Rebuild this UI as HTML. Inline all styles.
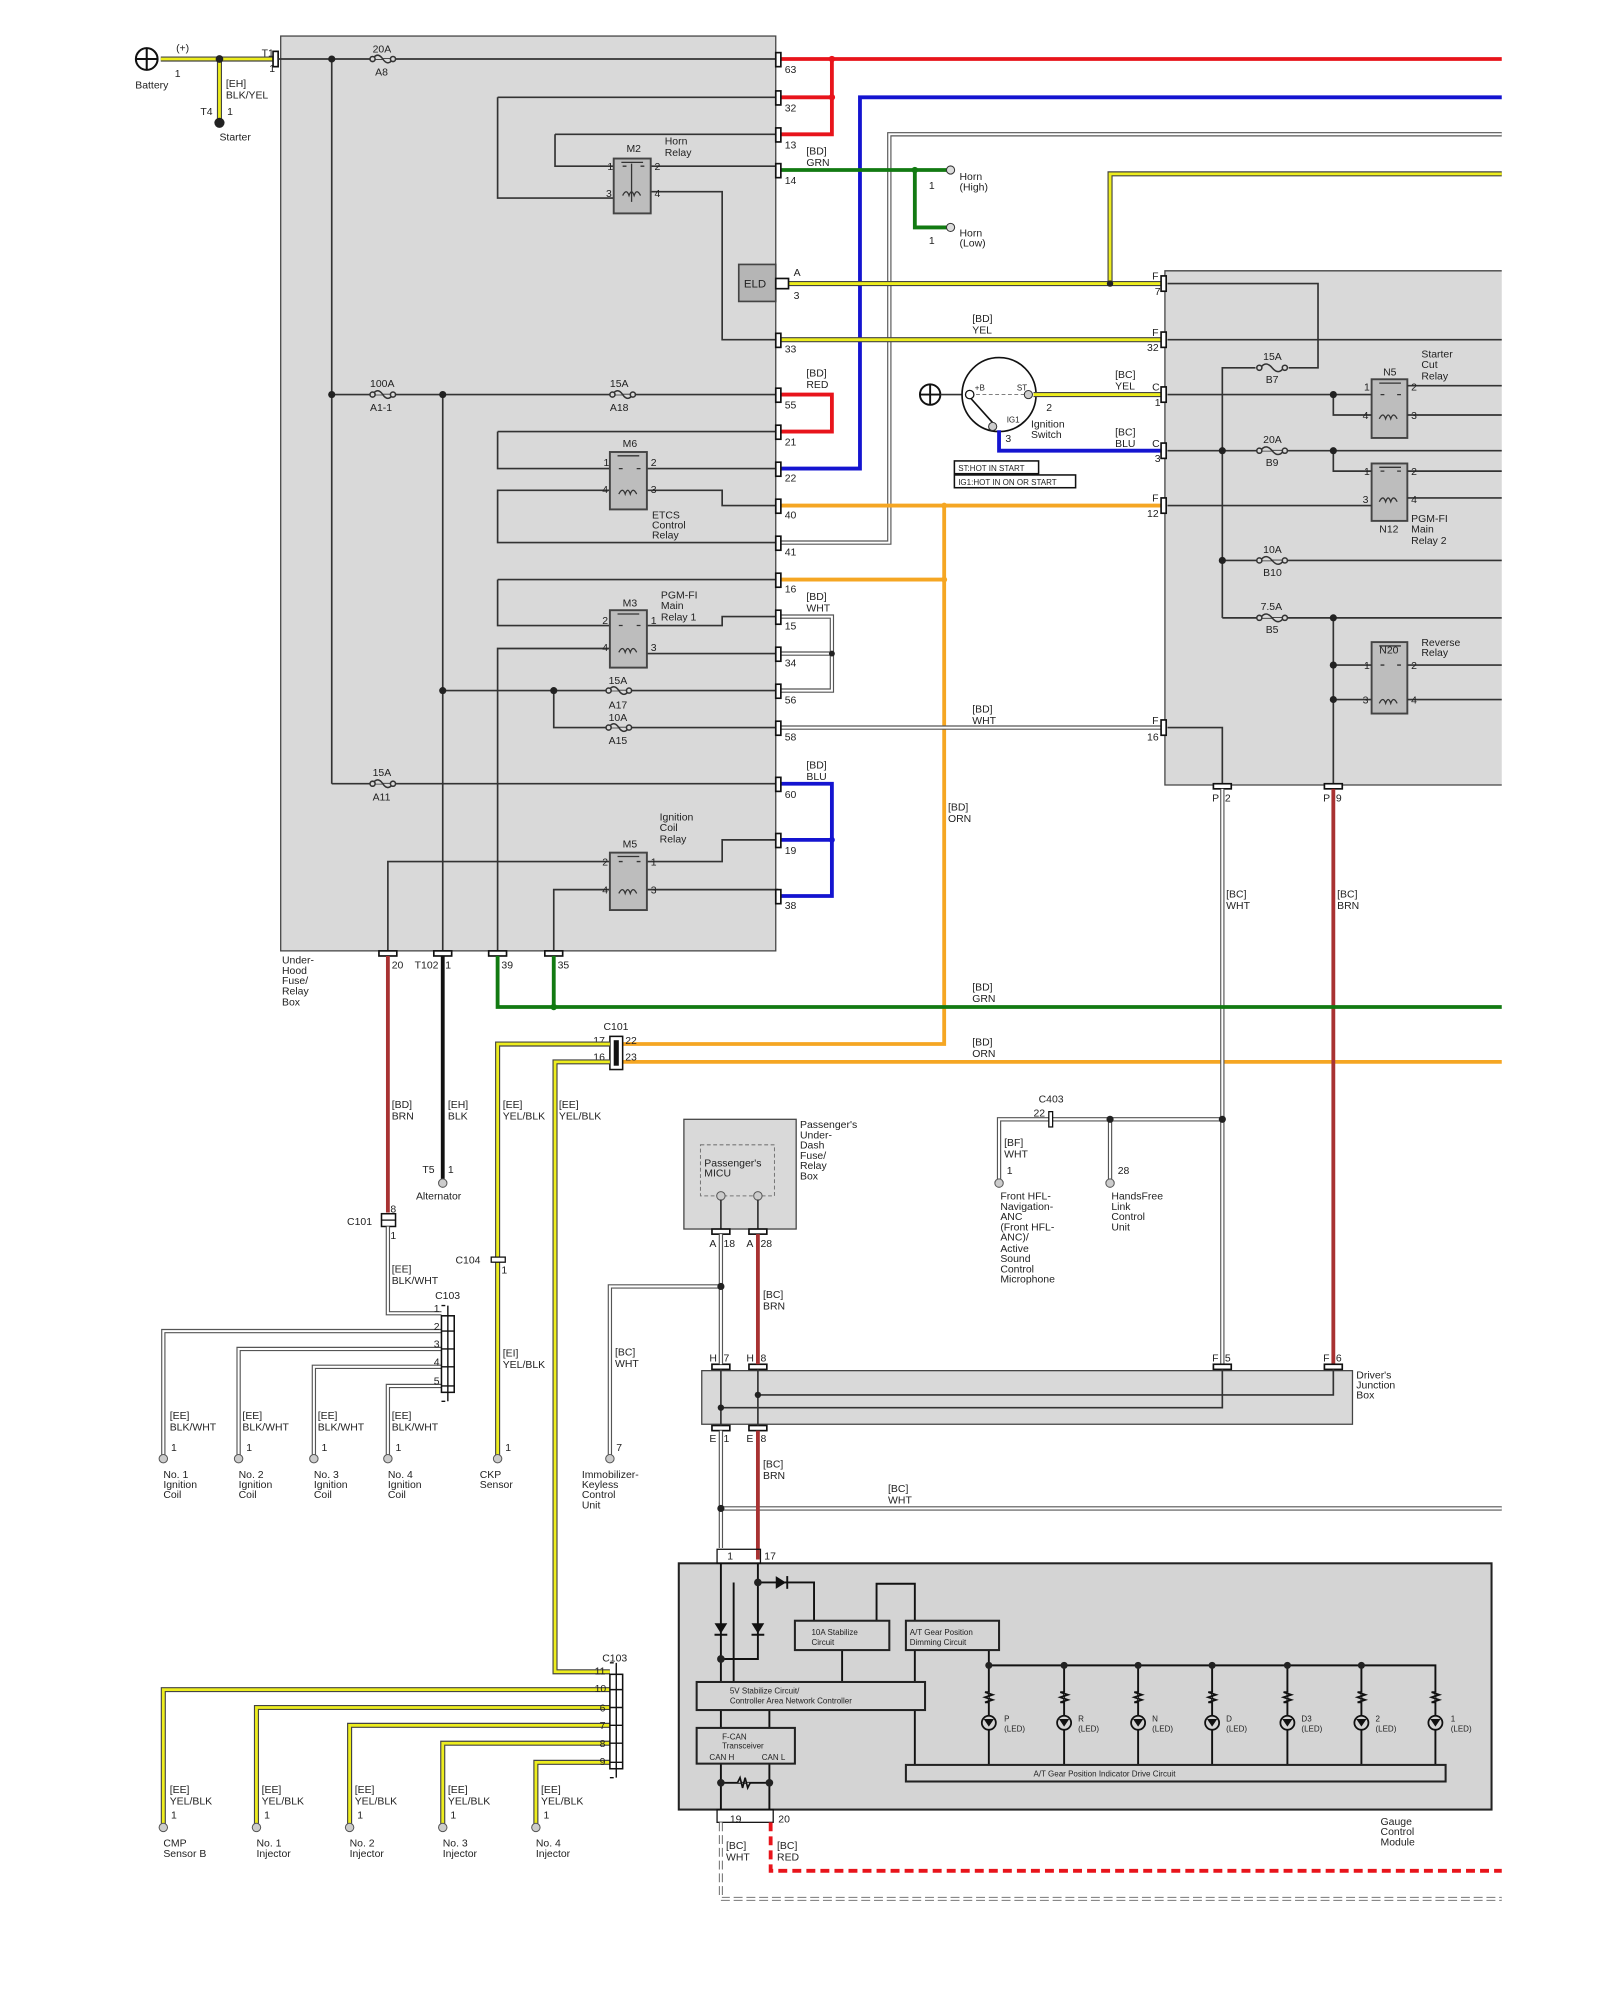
<!DOCTYPE html>
<html><head><meta charset="utf-8"><style>
html,body{margin:0;padding:0;background:#fff;}
svg{display:block}
text{font-family:"Liberation Sans",sans-serif;font-size:8.2px;fill:#222}
.k{stroke:#333;stroke-width:1.3;fill:none}
.r{stroke:#e8141b;stroke-width:3;fill:none}
.b{stroke:#1414d0;stroke-width:3;fill:none}
.g{stroke:#127a12;stroke-width:3;fill:none}
.o{stroke:#f5a623;stroke-width:3;fill:none}
.br{stroke:#a83232;stroke-width:3;fill:none}
.bk{stroke:#111;stroke-width:3;fill:none}
.yo{stroke:#444;stroke-width:4;fill:none}
.y{stroke:#eded1e;stroke-width:2.2;fill:none}
.wo{stroke:#555;stroke-width:3.4;fill:none}
.w{stroke:#fff;stroke-width:1.6;fill:none}
.pin{fill:#fff;stroke:#111;stroke-width:1.3}
.dot{fill:#222}
.rel{fill:#bdbdbd;stroke:#444;stroke-width:1.5}
.box{fill:#d9d9d9;stroke:#444;stroke-width:1}
.ib{fill:#d4d4d4;stroke:#222;stroke-width:1.6}
.term{fill:#ccc;stroke:#555;stroke-width:0.8}
.sm{font-size:6.3px}
</style></head><body>
<svg width="1600" height="2000" viewBox="0 0 1254 1567" xmlns="http://www.w3.org/2000/svg">
<!-- boxes -->
<rect class="box" x="220" y="28" width="388" height="717"/>
<path d="M1177 212 H913 V615 H1177" fill="#d9d9d9" stroke="#444" stroke-width="1"/>
<rect class="box" x="536" y="877" width="88" height="86"/>
<rect x="549" y="897" width="58" height="40" fill="none" stroke="#777" stroke-dasharray="3,2" stroke-width="0.8"/>
<rect class="box" x="550" y="1074" width="510" height="42"/>
<rect class="ib" x="532" y="1225" width="637" height="193"/>

<!-- battery -->
<circle cx="115" cy="46" r="8.5" fill="#fff" stroke="#111" stroke-width="1.6"/>
<path d="M115 38V54M107 46H123" stroke="#111" stroke-width="1.6"/>
<path class="yo" d="M126 46H214M172 46V96"/><path class="y" d="M126 46H214M172 46V96"/>
<circle class="dot" cx="172" cy="46" r="3"/><circle class="dot" cx="172" cy="96" r="4"/>
<rect class="pin" x="214" y="40" width="4" height="12"/>
<text x="138" y="40">(+)</text><text x="137" y="60">1</text><text x="106" y="69">Battery</text>
<text x="177" y="68">[EH]</text><text x="177" y="77">BLK/YEL</text>
<text x="157" y="90">T4</text><text x="178" y="90">1</text><text x="172" y="110">Starter</text>
<text x="205" y="44">T1</text><text x="211" y="56">1</text>

<!-- main box internal -->
<path class="k" d="M218 46H610M260 46V614M260 309H610M347 309V746M390 76H610M390 76V155H481M435 105H610M435 105V130H481M510 130H610M510 150H566V266H610"/>
<path class="k" d="M390 338H610M390 338V367H478M507 367H610M507 384H566V396H610M478 384H390V425H610"/>
<path class="k" d="M390 454H610M390 454V490H478M507 490H566V483H610M507 512H610M478 508H390V746M347 541H610M434 541V570H610M260 614H610"/>
<path class="k" d="M507 675H566V658H610M507 697H610M478 675H304V746M478 697H434V746"/>
<g class="dot"><circle cx="260" cy="46" r="2.8"/><circle cx="260" cy="309" r="2.8"/><circle cx="347" cy="309" r="2.8"/><circle cx="347" cy="541" r="2.8"/><circle cx="434" cy="541" r="2.8"/></g>
<!-- fuses -->
<g fill="#d9d9d9" stroke="#333" stroke-width="1.2">
<path d="M292 46Q296 40 300 46T308 46"/><circle cx="292" cy="46" r="2"/><circle cx="308" cy="46" r="2"/>
<path d="M292 309Q296 303 300 309T308 309"/><circle cx="292" cy="309" r="2"/><circle cx="308" cy="309" r="2"/>
<path d="M480 309Q484 303 488 309T496 309"/><circle cx="480" cy="309" r="2"/><circle cx="496" cy="309" r="2"/>
<path d="M477 541Q481 535 485 541T493 541"/><circle cx="477" cy="541" r="2"/><circle cx="493" cy="541" r="2"/>
<path d="M477 570Q481 564 485 570T493 570"/><circle cx="477" cy="570" r="2"/><circle cx="493" cy="570" r="2"/>
<path d="M292 614Q296 608 300 614T308 614"/><circle cx="292" cy="614" r="2"/><circle cx="308" cy="614" r="2"/>
</g>
<text x="292" y="41">20A</text><text x="294" y="59">A8</text>
<text x="290" y="303">100A</text><text x="290" y="322">A1-1</text>
<text x="478" y="303">15A</text><text x="478" y="322">A18</text>
<text x="477" y="536">15A</text><text x="477" y="555">A17</text>
<text x="477" y="565">10A</text><text x="477" y="583">A15</text>
<text x="292" y="608">15A</text><text x="292" y="627">A11</text>
<!-- relays -->
<g>
<rect class="rel" x="481" y="124" width="29" height="43"/>
<rect class="rel" x="478" y="354" width="29" height="45"/>
<rect class="rel" x="478" y="478" width="29" height="45"/>
<rect class="rel" x="478" y="668" width="29" height="45"/>
<rect class="rel" x="1075" y="297" width="28" height="46"/>
<rect class="rel" x="1075" y="363" width="28" height="45"/>
<rect class="rel" x="1075" y="503" width="28" height="56"/>
</g>
<g stroke="#333" stroke-width="1" fill="none">
<path d="M487 127H504M488 130h3M502 130h3M495 128V158" stroke-dasharray="0"/><path d="M488 153q3-6 5 0q2-6 4 0q2-6 5 0"/>
<path d="M484 357H501M485 367h3M499 367h3"/><path d="M485 387q3-6 5 0q2-6 4 0q2-6 5 0"/>
<path d="M484 481H501M485 490h3M499 490h3"/><path d="M485 511q3-6 5 0q2-6 4 0q2-6 5 0"/>
<path d="M484 671H501M485 675h3M499 675h3"/><path d="M485 700q3-6 5 0q2-6 4 0q2-6 5 0"/>
<path d="M1081 300H1098M1082 309h3M1095 309h3"/><path d="M1081 328q3-6 5 0q2-6 4 0q2-6 5 0"/>
<path d="M1081 366H1098M1082 369h3M1095 369h3"/><path d="M1081 393q3-6 5 0q2-6 4 0q2-6 5 0"/>
<path d="M1081 506H1098M1082 521h3M1095 521h3"/><path d="M1081 551q3-6 5 0q2-6 4 0q2-6 5 0"/>
</g>
<text x="491" y="119">M2</text><text x="521" y="113">Horn</text><text x="521" y="122">Relay</text>
<text x="476" y="133">1</text><text x="513" y="133">2</text><text x="475" y="154">3</text><text x="513" y="154">4</text>
<text x="488" y="350">M6</text><text x="473" y="365">1</text><text x="510" y="365">2</text><text x="472" y="386">4</text><text x="510" y="386">3</text>
<text x="511" y="406">ETCS</text><text x="511" y="414">Control</text><text x="511" y="422">Relay</text>
<text x="488" y="475">M3</text><text x="518" y="469">PGM-FI</text><text x="518" y="477">Main</text><text x="518" y="486">Relay 1</text>
<text x="472" y="489">2</text><text x="510" y="489">1</text><text x="472" y="510">4</text><text x="510" y="510">3</text>
<text x="517" y="643">Ignition</text><text x="517" y="651">Coil</text><text x="517" y="660">Relay</text>
<text x="488" y="664">M5</text><text x="472" y="678">2</text><text x="510" y="678">1</text><text x="472" y="700">4</text><text x="510" y="700">3</text>
<rect x="579" y="207" width="29" height="29" fill="#b5b5b5" stroke="#444" stroke-width="1.3"/><text x="583" y="225" style="font-size:9px">ELD</text>
<text x="221" y="755">Under-</text><text x="221" y="763">Hood</text><text x="221" y="771">Fuse/</text><text x="221" y="779">Relay</text><text x="221" y="788">Box</text>

<!-- right side wires from main box -->
<path class="r" d="M612 46H1177M612 76H652M612 105H652V46M612 309H652V338H612"/>
<circle cx="652" cy="46" r="2.5" fill="#e8141b"/><circle cx="652" cy="76" r="2.5" fill="#e8141b"/>
<path class="b" d="M612 367H674V76H1177"/>
<path class="wo" d="M612 425H697V105H1177"/><path class="w" d="M612 425H697V105H1177"/>
<path class="g" d="M612 133H742M717 133V178H742"/><circle cx="717" cy="133" r="2.5" fill="#127a12"/>
<path class="yo" d="M612 222H910M870 222V136H1177M612 266H910"/><path class="y" d="M612 222H910M870 222V136H1177M612 266H910"/>
<circle class="dot" cx="870" cy="222" r="2.5"/>
<path class="o" d="M612 396H910M612 454H740M740 396V818H486M486 832H1177"/>
<circle cx="740" cy="396" r="2.3" fill="#f5a623"/><circle cx="740" cy="454" r="2.3" fill="#f5a623"/>
<path class="wo" d="M612 483H652V541H612M612 512H652M612 570H910"/><path class="w" d="M612 483H652V541H612M612 512H652M612 570H910"/>
<circle class="dot" cx="652" cy="512" r="2.3"/>
<path class="b" d="M612 614H652V702H612M612 658H652"/><circle cx="652" cy="658" r="2.3" fill="#1414d0"/>
<!-- pins main box right -->
<g class="pin">
<rect x="608" y="41" width="4" height="11"/><rect x="608" y="71" width="4" height="11"/><rect x="608" y="100" width="4" height="11"/><rect x="608" y="128" width="4" height="11"/>
<rect x="608" y="218" width="10" height="8"/>
<rect x="608" y="261" width="4" height="11"/><rect x="608" y="304" width="4" height="11"/><rect x="608" y="333" width="4" height="11"/><rect x="608" y="362" width="4" height="11"/>
<rect x="608" y="391" width="4" height="11"/><rect x="608" y="420" width="4" height="11"/><rect x="608" y="449" width="4" height="11"/><rect x="608" y="478" width="4" height="11"/>
<rect x="608" y="507" width="4" height="11"/><rect x="608" y="536" width="4" height="11"/><rect x="608" y="565" width="4" height="11"/><rect x="608" y="609" width="4" height="11"/>
<rect x="608" y="653" width="4" height="11"/><rect x="608" y="697" width="4" height="11"/>
</g>
<g><text x="615" y="57">63</text><text x="615" y="87">32</text><text x="615" y="116">13</text><text x="615" y="144">14</text>
<text x="622" y="216">A</text><text x="622" y="234">3</text>
<text x="615" y="276">33</text><text x="615" y="320">55</text><text x="615" y="349">21</text><text x="615" y="377">22</text><text x="615" y="406">40</text><text x="615" y="435">41</text>
<text x="615" y="464">16</text><text x="615" y="493">15</text><text x="615" y="522">34</text><text x="615" y="551">56</text><text x="615" y="580">58</text><text x="615" y="625">60</text><text x="615" y="669">19</text><text x="615" y="712">38</text></g>
<text x="632" y="121">[BD]</text><text x="632" y="130">GRN</text>
<text x="632" y="295">[BD]</text><text x="632" y="304">RED</text>
<text x="632" y="470">[BD]</text><text x="632" y="479">WHT</text>
<text x="632" y="602">[BD]</text><text x="632" y="611">BLU</text>
<text x="762" y="252">[BD]</text><text x="762" y="261">YEL</text>
<text x="762" y="558">[BD]</text><text x="762" y="567">WHT</text>
<text x="743" y="635">[BD]</text><text x="743" y="644">ORN</text>
<text x="762" y="776">[BD]</text><text x="762" y="785">GRN</text>
<text x="762" y="819">[BD]</text><text x="762" y="828">ORN</text>
<!-- horns -->
<circle cx="745" cy="133" r="3.2" fill="#ddd" stroke="#333" stroke-width="0.8"/><circle cx="745" cy="178" r="3.2" fill="#ddd" stroke="#333" stroke-width="0.8"/>
<text x="752" y="141">Horn</text><text x="752" y="149">(High)</text><text x="728" y="148">1</text>
<text x="752" y="185">Horn</text><text x="752" y="193">(Low)</text><text x="728" y="191">1</text>
<!-- ignition switch -->
<circle cx="729" cy="309" r="8" fill="#fff" stroke="#111" stroke-width="1.5"/><path d="M729 301V317M721 309H737" stroke="#111" stroke-width="1.5"/>
<path class="k" d="M737 309H757"/>
<circle cx="783" cy="309" r="29" fill="#fff" stroke="#111" stroke-width="1.3"/>
<path d="M760 309H805" stroke="#555" stroke-width="0.6" stroke-dasharray="3,2"/>
<path d="M760 311L778 331" stroke="#111" stroke-width="1.3"/>
<circle cx="760" cy="309" r="3.3" fill="#fff" stroke="#111"/>
<circle cx="806" cy="309" r="3.2" fill="#ccc" stroke="#333" stroke-width="0.8"/>
<circle cx="778" cy="334" r="3.2" fill="#ccc" stroke="#333" stroke-width="0.8"/>
<text x="764" y="306" class="sm">+B</text><text x="797" y="306" class="sm">ST</text><text x="789" y="331" class="sm">IG1</text>
<text x="820" y="322">2</text><text x="788" y="346">3</text><text x="808" y="335">Ignition</text><text x="808" y="343">Switch</text>
<path class="yo" d="M810 309H910"/><path class="y" d="M810 309H910"/>
<path class="b" d="M783 337V353H910"/>
<text x="874" y="296">[BC]</text><text x="874" y="305">YEL</text>
<text x="874" y="341">[BC]</text><text x="874" y="350">BLU</text>
<rect x="748" y="361" width="66" height="10" fill="#fff" stroke="#111" stroke-width="1.2"/><text x="751" y="369" class="sm">ST:HOT IN START</text>
<rect x="748" y="372" width="95" height="10" fill="#fff" stroke="#111" stroke-width="1.2"/><text x="751" y="380" class="sm">IG1:HOT IN ON OR START</text>

<!-- right box internal -->
<path class="k" d="M915 222H1033V288H1010M984 288H958V484M915 266H1177M915 309H1075M1103 302H1177M1045 309V325H1075M1103 325H1177M915 353H1177M1045 353V369H1075M1103 369H1177M915 396H1075M1103 390H1177M958 439H1177M958 484H1177M1045 484V615M1045 521H1075M1103 521H1177M1045 548H1075M1103 548H1177M915 570H958V615"/>
<g class="dot"><circle cx="958" cy="353" r="2.8"/><circle cx="958" cy="439" r="2.8"/><circle cx="1045" cy="309" r="2.8"/><circle cx="1045" cy="353" r="2.8"/><circle cx="1045" cy="484" r="2.8"/><circle cx="1045" cy="521" r="2.8"/><circle cx="1045" cy="548" r="2.8"/></g>
<g fill="#d9d9d9" stroke="#333" stroke-width="1.2">
<path d="M988 288Q992 282 997 288T1006 288"/><circle cx="987" cy="288" r="2"/><circle cx="1007" cy="288" r="2"/>
<path d="M988 353Q992 347 997 353T1006 353"/><circle cx="987" cy="353" r="2"/><circle cx="1007" cy="353" r="2"/>
<path d="M988 439Q992 433 997 439T1006 439"/><circle cx="987" cy="439" r="2"/><circle cx="1007" cy="439" r="2"/>
<path d="M988 484Q992 478 997 484T1006 484"/><circle cx="987" cy="484" r="2"/><circle cx="1007" cy="484" r="2"/>
</g>
<text x="990" y="282">15A</text><text x="992" y="300">B7</text><text x="990" y="347">20A</text><text x="992" y="365">B9</text>
<text x="990" y="433">10A</text><text x="990" y="451">B10</text><text x="988" y="478">7.5A</text><text x="992" y="496">B5</text>
<text x="1084" y="294">N5</text><text x="1114" y="280">Starter</text><text x="1114" y="288">Cut</text><text x="1114" y="297">Relay</text>
<text x="1069" y="306">1</text><text x="1106" y="306">2</text><text x="1068" y="328">4</text><text x="1106" y="328">3</text>
<text x="1069" y="372">1</text><text x="1106" y="372">2</text><text x="1068" y="394">3</text><text x="1106" y="394">4</text>
<text x="1081" y="417">N12</text><text x="1106" y="409">PGM-FI</text><text x="1106" y="417">Main</text><text x="1106" y="426">Relay 2</text>
<text x="1081" y="512">N20</text><text x="1114" y="506">Reverse</text><text x="1114" y="514">Relay</text>
<text x="1069" y="524">1</text><text x="1106" y="524">2</text><text x="1068" y="551">3</text><text x="1106" y="551">4</text>
<g class="pin"><rect x="910" y="216" width="4" height="12"/><rect x="910" y="260" width="4" height="12"/><rect x="910" y="303" width="4" height="12"/><rect x="910" y="347" width="4" height="12"/><rect x="910" y="390" width="4" height="12"/><rect x="910" y="564" width="4" height="12"/>
<rect x="951" y="614" width="14" height="4"/><rect x="1038" y="614" width="14" height="4"/></g>
<text x="903" y="219">F</text><text x="905" y="231">7</text><text x="903" y="263">F</text><text x="899" y="275">32</text><text x="903" y="306">C</text><text x="905" y="318">1</text>
<text x="903" y="350">C</text><text x="905" y="362">3</text><text x="903" y="393">F</text><text x="899" y="405">12</text><text x="903" y="567">F</text><text x="899" y="580">16</text>
<text x="950" y="628">P</text><text x="960" y="628">2</text><text x="1037" y="628">P</text><text x="1047" y="628">9</text>

<!-- verticals P2 and P9 -->
<path class="wo" d="M958 618V1071"/><path class="w" d="M958 618V1071"/>
<path class="br" d="M1045 618V1071"/>
<text x="961" y="703">[BC]</text><text x="961" y="712">WHT</text>
<text x="1048" y="703">[BC]</text><text x="1048" y="712">BRN</text>
<!-- C403 -->
<path class="wo" d="M958 877H783V925M870 877V925"/><path class="w" d="M958 877H783V925M870 877V925"/>
<rect x="822" y="871" width="3" height="12" fill="#fff" stroke="#111" stroke-width="1"/>
<g class="dot"><circle cx="958" cy="877" r="2.8"/><circle cx="870" cy="877" r="2.8"/></g>
<circle class="term" cx="783" cy="927" r="3.3"/><circle class="term" cx="870" cy="927" r="3.3"/>
<text x="814" y="864">C403</text><text x="810" y="875">22</text>
<text x="787" y="898">[BF]</text><text x="787" y="907">WHT</text><text x="789" y="920">1</text><text x="876" y="920">28</text>
<text x="784" y="940">Front HFL-</text><text x="784" y="948">Navigation-</text><text x="784" y="956">ANC</text><text x="784" y="964">(Front HFL-</text><text x="784" y="972">ANC)/</text><text x="784" y="981">Active</text><text x="784" y="989">Sound</text><text x="784" y="997">Control</text><text x="784" y="1005">Microphone</text>
<text x="871" y="940">HandsFree</text><text x="871" y="948">Link</text><text x="871" y="956">Control</text><text x="871" y="964">Unit</text>

<!-- bottom pins main box -->
<g class="pin"><rect x="297" y="745" width="14" height="4"/><rect x="340" y="745" width="14" height="4"/><rect x="383" y="745" width="14" height="4"/><rect x="427" y="745" width="14" height="4"/></g>
<text x="307" y="759">20</text><text x="325" y="759">T102</text><text x="349" y="759">1</text><text x="393" y="759">39</text><text x="437" y="759">35</text>
<path class="g" d="M390 749V789H1177M434 749V789"/><circle cx="434" cy="789" r="2.5" fill="#127a12"/>
<path class="br" d="M304 749V950"/>
<path class="bk" d="M347 749V925"/>
<circle class="term" cx="347" cy="927" r="3.3"/>
<text x="307" y="868">[BD]</text><text x="307" y="877">BRN</text><text x="351" y="868">[EH]</text><text x="351" y="877">BLK</text>
<text x="331" y="919">T5</text><text x="351" y="919">1</text><text x="326" y="940">Alternator</text>
<!-- C101 brn -->
<rect x="299" y="951" width="11" height="10" fill="#fff" stroke="#111" stroke-width="1.2"/><path d="M299 956H310" stroke="#111"/>
<text x="306" y="950">8</text><text x="306" y="971">1</text><text x="272" y="960">C101</text>
<path class="wo" d="M304 961V1029H346"/><path class="w" d="M304 961V1029H346"/>
<text x="307" y="997">[EE]</text><text x="307" y="1006">BLK/WHT</text>
<!-- C101 upper -->
<rect x="478" y="812" width="10" height="26" fill="#fff" stroke="#111" stroke-width="1.2"/><rect x="481" y="815" width="4" height="20" fill="#111"/>
<text x="473" y="807">C101</text><text x="465" y="818">17</text><text x="490" y="818">22</text><text x="465" y="831">16</text><text x="490" y="831">23</text>
<path class="yo" d="M478 818H390V1141M478 832H435V1310H478"/><path class="y" d="M478 818H390V1141M478 832H435V1310H478"/>
<text x="394" y="868">[EE]</text><text x="394" y="877">YEL/BLK</text><text x="438" y="868">[EE]</text><text x="438" y="877">YEL/BLK</text>
<rect x="385" y="985" width="11" height="4" fill="#fff" stroke="#111" stroke-width="1"/>
<text x="357" y="990">C104</text><text x="393" y="998">1</text>
<text x="394" y="1063">[EI]</text><text x="394" y="1072">YEL/BLK</text>
<circle class="term" cx="390" cy="1143" r="3.3"/><text x="396" y="1137">1</text><text x="376" y="1158">CKP</text><text x="376" y="1166">Sensor</text>
<!-- C103 upper -->
<path class="wo" d="M346 1043H128V1141M346 1057H187V1141M346 1071H246V1141M346 1086H304V1141"/><path class="w" d="M346 1043H128V1141M346 1057H187V1141M346 1071H246V1141M346 1086H304V1141"/>
<rect x="346" y="1031" width="10" height="60" fill="none" stroke="#111" stroke-width="1.2"/>
<path d="M346 1043H356M346 1057H356M346 1071H356M346 1086H356M351 1023V1098M346 1023h3M346 1098h3" stroke="#111" stroke-width="1.1" fill="none"/>
<text x="341" y="1018">C103</text><text x="340" y="1028">1</text><text x="340" y="1042">2</text><text x="340" y="1056">3</text><text x="340" y="1070">4</text><text x="340" y="1085">5</text>
<g><circle class="term" cx="128" cy="1143" r="3.3"/><circle class="term" cx="187" cy="1143" r="3.3"/><circle class="term" cx="246" cy="1143" r="3.3"/><circle class="term" cx="304" cy="1143" r="3.3"/></g>
<text x="133" y="1112">[EE]</text><text x="133" y="1121">BLK/WHT</text><text x="190" y="1112">[EE]</text><text x="190" y="1121">BLK/WHT</text>
<text x="249" y="1112">[EE]</text><text x="249" y="1121">BLK/WHT</text><text x="307" y="1112">[EE]</text><text x="307" y="1121">BLK/WHT</text>
<text x="134" y="1137">1</text><text x="193" y="1137">1</text><text x="252" y="1137">1</text><text x="310" y="1137">1</text>
<text x="128" y="1158">No. 1</text><text x="128" y="1166">Ignition</text><text x="128" y="1174">Coil</text>
<text x="187" y="1158">No. 2</text><text x="187" y="1166">Ignition</text><text x="187" y="1174">Coil</text>
<text x="246" y="1158">No. 3</text><text x="246" y="1166">Ignition</text><text x="246" y="1174">Coil</text>
<text x="304" y="1158">No. 4</text><text x="304" y="1166">Ignition</text><text x="304" y="1174">Coil</text>
<!-- C103 lower -->
<path class="yo" d="M478 1324H128V1430M478 1338H201V1430M478 1352H274V1430M478 1366H347V1430M478 1381H420V1430"/><path class="y" d="M478 1324H128V1430M478 1338H201V1430M478 1352H274V1430M478 1366H347V1430M478 1381H420V1430"/>
<rect x="478" y="1312" width="10" height="74" fill="none" stroke="#111" stroke-width="1.2"/>
<path d="M478 1324H488M478 1338H488M478 1352H488M478 1366H488M478 1381H488M483 1303V1393M478 1303h3M478 1393h3" stroke="#111" stroke-width="1.1" fill="none"/>
<text x="472" y="1302">C103</text><text x="466" y="1312">11</text><text x="466" y="1326">10</text><text x="470" y="1341">6</text><text x="470" y="1355">7</text><text x="470" y="1369">8</text><text x="470" y="1383">9</text>
<g><circle class="term" cx="128" cy="1432" r="3.3"/><circle class="term" cx="201" cy="1432" r="3.3"/><circle class="term" cx="274" cy="1432" r="3.3"/><circle class="term" cx="347" cy="1432" r="3.3"/><circle class="term" cx="420" cy="1432" r="3.3"/></g>
<text x="133" y="1405">[EE]</text><text x="133" y="1414">YEL/BLK</text><text x="205" y="1405">[EE]</text><text x="205" y="1414">YEL/BLK</text><text x="278" y="1405">[EE]</text><text x="278" y="1414">YEL/BLK</text>
<text x="351" y="1405">[EE]</text><text x="351" y="1414">YEL/BLK</text><text x="424" y="1405">[EE]</text><text x="424" y="1414">YEL/BLK</text>
<text x="134" y="1425">1</text><text x="207" y="1425">1</text><text x="280" y="1425">1</text><text x="353" y="1425">1</text><text x="426" y="1425">1</text>
<text x="128" y="1447">CMP</text><text x="128" y="1455">Sensor B</text><text x="201" y="1447">No. 1</text><text x="201" y="1455">Injector</text>
<text x="274" y="1447">No. 2</text><text x="274" y="1455">Injector</text><text x="347" y="1447">No. 3</text><text x="347" y="1455">Injector</text>
<text x="420" y="1447">No. 4</text><text x="420" y="1455">Injector</text>

<!-- passenger MICU -->
<text x="552" y="914">Passenger's</text><text x="552" y="922">MICU</text>
<text x="627" y="884">Passenger's</text><text x="627" y="892">Under-</text><text x="627" y="900">Dash</text><text x="627" y="908">Fuse/</text><text x="627" y="916">Relay</text><text x="627" y="924">Box</text>
<circle class="term" cx="565" cy="937" r="3.3"/><circle class="term" cx="594" cy="937" r="3.3"/>
<path class="k" d="M565 940V963M594 940V963"/>
<g class="pin"><rect x="558" y="963" width="14" height="4"/><rect x="587" y="963" width="14" height="4"/><rect x="558" y="1069" width="14" height="4"/><rect x="587" y="1069" width="14" height="4"/><rect x="951" y="1069" width="14" height="4"/><rect x="1038" y="1069" width="14" height="4"/><rect x="558" y="1117" width="14" height="4"/><rect x="587" y="1117" width="14" height="4"/></g>
<text x="556" y="977">A</text><text x="567" y="977">18</text><text x="585" y="977">A</text><text x="596" y="977">28</text>
<path class="wo" d="M565 967V1069M565 1008H478V1141M565 1121V1213M565 1182H1177"/><path class="w" d="M565 967V1069M565 1008H478V1141M565 1121V1213M565 1182H1177"/>
<circle class="dot" cx="565" cy="1008" r="2.8"/><circle class="dot" cx="565" cy="1182" r="2.8"/>
<path class="br" d="M594 967V1069M594 1121V1222"/>
<text x="598" y="1017">[BC]</text><text x="598" y="1026">BRN</text><text x="482" y="1062">[BC]</text><text x="482" y="1071">WHT</text>
<circle class="term" cx="478" cy="1143" r="3.3"/><text x="483" y="1137">7</text>
<text x="456" y="1158">Immobilizer-</text><text x="456" y="1166">Keyless</text><text x="456" y="1174">Control</text><text x="456" y="1182">Unit</text>
<!-- DJB -->
<text x="556" y="1067">H</text><text x="567" y="1067">7</text><text x="585" y="1067">H</text><text x="596" y="1067">8</text>
<text x="950" y="1067">F</text><text x="960" y="1067">5</text><text x="1037" y="1067">F</text><text x="1047" y="1067">6</text>
<path class="k" d="M565 1073V1117M594 1073V1117M594 1093H1045V1073M565 1103H958V1073"/>
<circle class="dot" cx="594" cy="1093" r="2.5"/><circle class="dot" cx="565" cy="1103" r="2.5"/>
<text x="1063" y="1080">Driver's</text><text x="1063" y="1088">Junction</text><text x="1063" y="1096">Box</text>
<text x="556" y="1130">E</text><text x="567" y="1130">1</text><text x="585" y="1130">E</text><text x="596" y="1130">8</text>
<text x="598" y="1150">[BC]</text><text x="598" y="1159">BRN</text><text x="696" y="1169">[BC]</text><text x="696" y="1178">WHT</text>

<!-- gauge module -->
<rect x="562" y="1214" width="34" height="11" fill="none" stroke="#111" stroke-width="1"/>
<text x="570" y="1222">1</text><text x="599" y="1222">17</text>
<path class="k" style="stroke:#111;stroke-width:1.5" d="M565 1225V1354M594 1225V1300H565M594 1240H630M630 1240H638V1270M575 1240V1318M660 1293V1318M687 1270V1241H717V1270M717 1293V1383M775 1293V1383M775 1305H1125V1383M834 1305V1383M892 1305V1383M950 1305V1383M1009 1305V1383M1067 1305V1383M565 1340V1354M603 1340V1354M565 1382V1418M603 1382V1418M565 1397H603"/>
<g class="dot"><circle cx="594" cy="1240" r="3"/><circle cx="565" cy="1300" r="3"/><circle cx="775" cy="1305" r="2.8"/><circle cx="834" cy="1305" r="2.8"/><circle cx="892" cy="1305" r="2.8"/><circle cx="950" cy="1305" r="2.8"/><circle cx="1009" cy="1305" r="2.8"/><circle cx="1067" cy="1305" r="2.8"/><circle cx="565" cy="1397" r="3"/><circle cx="603" cy="1397" r="3"/></g>
<path d="M608 1235L616 1240L608 1245Z" fill="#111"/><path d="M617 1235V1245" stroke="#111" stroke-width="1.5"/>
<path d="M560 1272L570 1272L565 1280Z M589 1272L599 1272L594 1280Z" fill="#111"/><path d="M560 1281H570M589 1281H599" stroke="#111" stroke-width="1.5"/>
<rect class="ib" x="623" y="1270" width="74" height="23"/><text x="636" y="1281" class="sm">10A Stabilize</text><text x="636" y="1289" class="sm">Circuit</text>
<rect class="ib" x="710" y="1270" width="73" height="23"/><text x="713" y="1281" class="sm">A/T Gear Position</text><text x="713" y="1289" class="sm">Dimming Circuit</text>
<rect class="ib" x="546" y="1318" width="179" height="22"/><text x="572" y="1327" class="sm">5V Stabilize Circuit/</text><text x="572" y="1335" class="sm">Controller Area Network Controller</text>
<rect class="ib" x="546" y="1354" width="77" height="28"/><text x="566" y="1363" class="sm">F-CAN</text><text x="566" y="1370" class="sm">Transceiver</text><text x="556" y="1379" class="sm">CAN H</text><text x="597" y="1379" class="sm">CAN L</text>
<path d="M578 1397l2-4 2 8 2-8 2 8 2-4" stroke="#111" stroke-width="1.3" fill="#d4d4d4"/>
<rect class="ib" x="710" y="1383" width="423" height="13"/><text x="810" y="1392" class="sm">A/T Gear Position Indicator Drive Circuit</text>
<g stroke="#111" stroke-width="1.4" fill="#d4d4d4">
<path d="M775 1326h-3l6 2-6 2 6 2-6 2h3M834 1326h-3l6 2-6 2 6 2-6 2h3M892 1326h-3l6 2-6 2 6 2-6 2h3M950 1326h-3l6 2-6 2 6 2-6 2h3M1009 1326h-3l6 2-6 2 6 2-6 2h3M1067 1326h-3l6 2-6 2 6 2-6 2h3M1125 1326h-3l6 2-6 2 6 2-6 2h3"/>
<circle cx="775" cy="1350" r="5.5"/><circle cx="834" cy="1350" r="5.5"/><circle cx="892" cy="1350" r="5.5"/><circle cx="950" cy="1350" r="5.5"/><circle cx="1009" cy="1350" r="5.5"/><circle cx="1067" cy="1350" r="5.5"/><circle cx="1125" cy="1350" r="5.5"/>
</g>
<g fill="#111"><path d="M771 1347h8l-4 6z"/><path d="M830 1347h8l-4 6z"/><path d="M888 1347h8l-4 6z"/><path d="M946 1347h8l-4 6z"/><path d="M1005 1347h8l-4 6z"/><path d="M1063 1347h8l-4 6z"/><path d="M1121 1347h8l-4 6z"/></g>
<g class="sm"><text x="787" y="1349" class="sm">P</text><text x="787" y="1357" class="sm">(LED)</text><text x="845" y="1349" class="sm">R</text><text x="845" y="1357" class="sm">(LED)</text>
<text x="903" y="1349" class="sm">N</text><text x="903" y="1357" class="sm">(LED)</text><text x="961" y="1349" class="sm">D</text><text x="961" y="1357" class="sm">(LED)</text>
<text x="1020" y="1349" class="sm">D3</text><text x="1020" y="1357" class="sm">(LED)</text><text x="1078" y="1349" class="sm">2</text><text x="1078" y="1357" class="sm">(LED)</text>
<text x="1137" y="1349" class="sm">1</text><text x="1137" y="1357" class="sm">(LED)</text></g>
<text x="1082" y="1430">Gauge</text><text x="1082" y="1438">Control</text><text x="1082" y="1446">Module</text>
<rect x="562" y="1418" width="44" height="10" fill="none" stroke="#111" stroke-width="1"/>
<text x="572" y="1428">19</text><text x="610" y="1428">20</text>
<path d="M604 1428V1466H1177" stroke="#e8141b" stroke-width="3" fill="none" stroke-dasharray="7,4"/>
<path d="M565 1428V1488H1177" stroke="#777" stroke-width="3.2" fill="none" stroke-dasharray="7,3"/>
<path d="M565 1428V1488H1177" stroke="#fff" stroke-width="1.5" fill="none"/>
<text x="569" y="1449">[BC]</text><text x="569" y="1458">WHT</text><text x="609" y="1449">[BC]</text><text x="609" y="1458">RED</text>
</svg>
</body></html>
